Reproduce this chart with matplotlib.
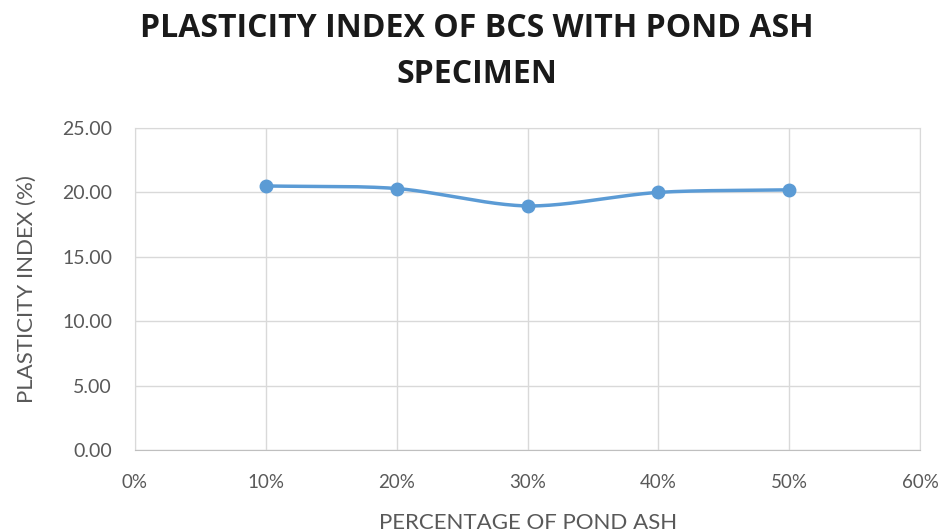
import numpy as np
import matplotlib
matplotlib.use("Agg")
import matplotlib.pyplot as plt
from matplotlib.ticker import FuncFormatter

# Plasticity index of BCS mixed with pond ash
pond_ash_pct = [10, 20, 30, 40, 50]
plasticity_index = [20.5, 20.3, 18.95, 20.0, 20.2]

x_ticks = [0, 10, 20, 30, 40, 50, 60]
y_ticks = [0, 5, 10, 15, 20, 25]

TEXT = "#595959"
LINE = "#5B9BD5"
GRID = "#D9D9D9"
W, H = 938, 532


def smooth_curve(xs, ys, n=40):
    """Catmull-Rom style smoothing similar to spreadsheet smoothed lines."""
    xs = np.asarray(xs, float)
    ys = np.asarray(ys, float)
    px = np.concatenate([[2 * xs[0] - xs[1]], xs, [2 * xs[-1] - xs[-2]]])
    py = np.concatenate([[2 * ys[0] - ys[1]], ys, [2 * ys[-1] - ys[-2]]])
    out_x, out_y = [], []
    for i in range(1, len(px) - 2):
        t = np.linspace(0, 1, n)
        for arr, out in ((px, out_x), (py, out_y)):
            p0, p1, p2, p3 = arr[i - 1], arr[i], arr[i + 1], arr[i + 2]
            m1 = (p2 - p0) / 2 * 0.9
            m2 = (p3 - p1) / 2 * 0.9
            h00 = 2 * t**3 - 3 * t**2 + 1
            h10 = t**3 - 2 * t**2 + t
            h01 = -2 * t**3 + 3 * t**2
            h11 = t**3 - t**2
            out.extend(h00 * p1 + h10 * m1 + h01 * p2 + h11 * m2)
    return np.array(out_x), np.array(out_y)


plt.rcParams["font.family"] = ["Lato", "DejaVu Sans"]

fig = plt.figure(figsize=(W / 100, H / 100), dpi=100)
ax = fig.add_axes([135 / W, 1 - 450 / H, (920 - 135) / W, (450 - 128) / H])

sx, sy = smooth_curve(pond_ash_pct, plasticity_index)
ax.plot(sx, sy, color=LINE, lw=2.5, solid_capstyle="round", zorder=3)
ax.plot(pond_ash_pct, plasticity_index, "o", color=LINE, ms=9, zorder=4)

ax.set_xlim(0, 60)
ax.set_ylim(0, 25)
ax.set_xticks(x_ticks)
ax.set_yticks(y_ticks)
ax.xaxis.set_major_formatter(FuncFormatter(lambda v, p: f"{v:.0f}%"))
ax.yaxis.set_major_formatter(FuncFormatter(lambda v, p: f"{v:.2f}"))
ax.grid(True, color=GRID, lw=1)
ax.set_axisbelow(True)
for s in ax.spines.values():
    s.set_color(GRID)
ax.spines["bottom"].set_color("#BFBFBF")
ax.tick_params(length=0, labelsize=14, colors=TEXT)
ax.tick_params(axis="x", pad=17, labelsize=13.5)
ax.tick_params(axis="y", pad=16.5)

fig.text(528 / W, 1 - 523 / H, "PERCENTAGE OF POND ASH", ha="center", va="center",
         fontsize=16, color=TEXT)
fig.text(27 / W, 1 - 289 / H, "PLASTICITY INDEX (%)", ha="center", va="center",
         rotation=90, fontsize=16, color=TEXT)

title_kw = dict(ha="center", va="baseline", fontsize=23, fontweight="bold",
                color="#1a1a1a", family=["Open Sans", "DejaVu Sans"])
fig.text(477 / W, 1 - 37 / H, "PLASTICITY INDEX OF BCS WITH POND ASH", **title_kw)
fig.text(477 / W, 1 - 83 / H, "SPECIMEN", **title_kw)

fig.savefig("out.png", dpi=100, facecolor="white")
